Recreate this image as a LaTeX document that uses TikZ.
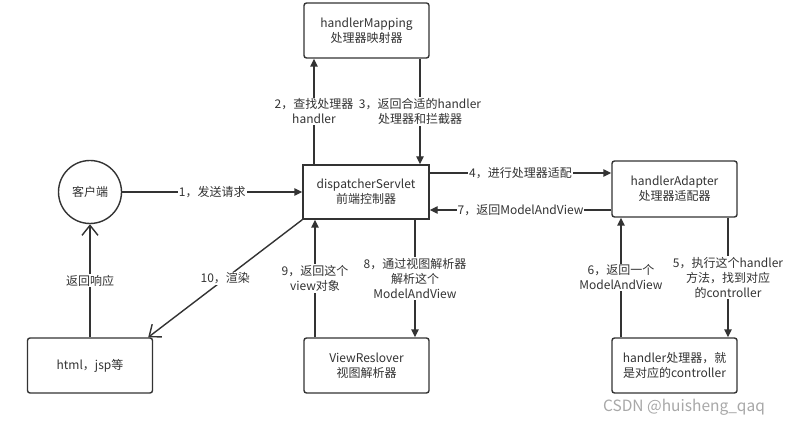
\documentclass[tikz,border=0pt]{standalone}
\usepackage{fontspec}
\setmainfont{Noto Sans CJK SC}
\usetikzlibrary{arrows.meta}
\definecolor{ln}{HTML}{333333}
\definecolor{txt}{HTML}{333333}
\definecolor{wm}{HTML}{A8A8A8}
\begin{document}
\begin{tikzpicture}[x=1pt,y=-1pt,
  every node/.style={font=\fontsize{12}{15}\selectfont, text=txt},
  box/.style={draw=ln, line width=1.4pt, rounded corners=2.5pt, minimum width=125pt, minimum height=55pt, align=center, inner sep=0pt},
  sqbox/.style={box, rounded corners=0pt},
  lab/.style={fill=white, align=center, inner sep=1pt},
  arr/.style={draw=ln, line width=1.4pt, -{Triangle[length=8pt,width=7.5pt]}},
  openarr/.style={draw=ln, line width=1.4pt, -{Straight Barb[length=10pt,width=16pt]}}
]
\useasboundingbox (0,0) rectangle (786,427);
\fill[white] (0,0) rectangle (786,427);

\node[box] (hm) at (366.5,30.5) {handlerMapping\\处理器映射器};
\node[sqbox, minimum width=126pt, minimum height=54pt] (ds) at (366,192) {dispatcherServlet\\前端控制器};
\node[box, minimum height=56pt] (ha) at (674.5,189) {handlerAdapter\\处理器适配器};
\node[box] (hd) at (674.5,365.5) {handler处理器，就\\是对应的controller};
\node[draw=ln, line width=1.4pt, circle, minimum size=63pt, inner sep=0pt] (cl) at (90,192) {客户端};
\node[box] (html) at (90,365.5) {html，jsp等};
\node[box] (vr) at (366.5,365.5) {ViewReslover\\视图解析器};

\draw[arr] (cl.east) -- node[lab] {1，发送请求} (ds.west);
\draw[arr] ([xshift=-52pt]ds.north) -- node[lab] {2，查找处理器\\handler} ([xshift=-52.5pt]hm.south);
\draw[arr] ([xshift=53.5pt]hm.south) -- node[lab] {3，返回合适的handler\\处理器和拦截器} ([xshift=54pt]ds.north);
\draw[arr] ([yshift=19pt]ds.east) -- node[lab] {4，进行处理器适配} ([yshift=16pt]ha.west);
\draw[arr] ([xshift=53.5pt]ha.south) -- node[lab] {5，执行这个handler\\方法，找到对应\\的controller} ([xshift=53.5pt]hd.north);
\draw[arr] ([xshift=-53.5pt]hd.north) -- node[lab] {6，返回一个\\ModelAndView} ([xshift=-53.5pt]ha.south);
\draw[arr] ([yshift=-21pt]ha.west) -- node[lab] {7，返回ModelAndView} ([yshift=-18pt]ds.east);
\draw[arr] ([xshift=49pt]ds.south) -- node[lab] {8，通过视图解析器\\解析这个\\ModelAndView} ([xshift=48.5pt]vr.north);
\draw[arr] ([xshift=-51.5pt]vr.north) -- node[lab] {9，返回这个\\view对象} ([xshift=-51pt]ds.south);
\draw[openarr] (ds.south west) -- node[lab] {10，渲染} ([xshift=-5pt]html.north east);
\draw[openarr] (html.north) -- node[lab] {返回响应} (cl.south);

\node[font=\fontsize{15.5}{18}\selectfont, text=wm] (wmk) at (684,407) {CSDN @huisheng\_qaq};
\end{tikzpicture}
\end{document}
